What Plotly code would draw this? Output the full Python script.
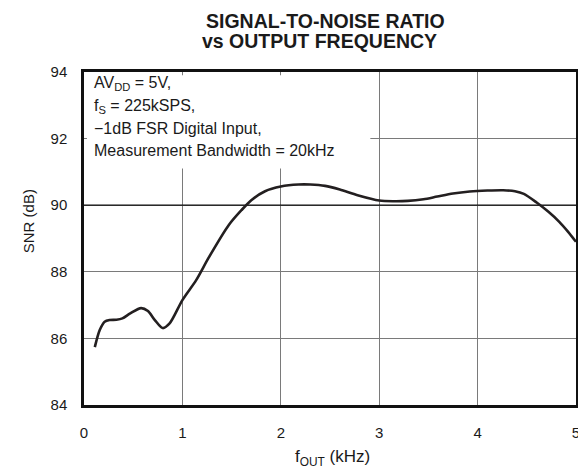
import plotly.graph_objects as go

# SNR vs output frequency
f_out = [0.11, 0.16, 0.21, 0.26, 0.33, 0.39, 0.47, 0.58, 0.65, 0.72, 0.80, 0.87,
         1.0, 1.14, 1.27, 1.47, 1.60, 1.70, 1.84, 2.0, 2.18, 2.3, 2.45, 2.6,
         2.78, 3.0, 3.15, 3.29, 3.45, 3.59, 3.75, 3.92, 4.1, 4.26, 4.38, 4.47,
         4.6, 4.72, 4.83, 4.92, 5.0]
snr = [85.74, 86.25, 86.5, 86.55, 86.56, 86.6, 86.75, 86.91, 86.82, 86.55, 86.31, 86.45,
       87.15, 87.75, 88.44, 89.4, 89.85, 90.15, 90.42, 90.56, 90.62, 90.62, 90.58, 90.47,
       90.3, 90.14, 90.12, 90.13, 90.18, 90.26, 90.35, 90.41, 90.44, 90.45, 90.42, 90.34,
       90.08, 89.8, 89.5, 89.2, 88.9]

x_ticks = [0, 1, 2, 3, 4, 5]
y_ticks = [84, 86, 88, 90, 92, 94]

title_lines = ["SIGNAL-TO-NOISE RATIO", "vs OUTPUT FREQUENCY"]
note_lines = ["AV<sub>DD</sub> = 5V,", "f<sub>S</sub> = 225kSPS,",
              "\u22121dB FSR Digital Input,", "Measurement Bandwidth = 20kHz"]

FONT = "Liberation Sans, Arial, sans-serif"
INK = "#1a1a1a"

fig = go.Figure()
fig.add_trace(go.Scatter(x=f_out, y=snr, mode="lines",
                         line=dict(color="#231f20", width=2.6, shape="spline", smoothing=0.8),
                         showlegend=False, hoverinfo="skip"))

# white box behind the notes, hides the grid but not the curve
fig.add_shape(type="rect", xref="x", yref="y", x0=0.03, x1=2.91, y0=91.1, y1=93.9,
              fillcolor="white", line=dict(width=0), layer="between")

# 90 dB line is drawn black in the original
fig.add_shape(type="line", xref="x", yref="y", x0=0, x1=5, y0=90, y1=90,
              line=dict(color="#111", width=1.3), layer="between")

# title, two tight lines
for txt, xp, yp in zip(title_lines, [0.490, 0.478], [1.1517, 1.0931]):
    fig.add_annotation(xref="paper", yref="paper", x=xp, y=yp, xanchor="center",
                       yanchor="middle", text="<b>" + txt + "</b>", showarrow=False,
                       font=dict(family=FONT, size=19.5, color=INK))

# conditions box text
for txt, yp in zip(note_lines, [0.9658, 0.8967, 0.8306, 0.7646]):
    fig.add_annotation(xref="paper", yref="paper", x=0.016, y=yp, xanchor="left",
                       yanchor="middle", text=txt, showarrow=False, align="left",
                       font=dict(family=FONT, size=16, color=INK))

fig.add_annotation(xref="paper", yref="paper", x=-0.113, y=0.553, textangle=-90,
                   xanchor="center", yanchor="middle",
                   text="SNR (dB)", showarrow=False,
                   font=dict(family=FONT, size=15, color=INK))

fig.add_annotation(xref="paper", yref="paper", x=0.506, y=-0.159,
                   xanchor="center", yanchor="middle",
                   text="f<sub>OUT</sub> (kHz)", showarrow=False,
                   font=dict(family=FONT, size=17, color=INK))

# page has an 8px body margin, so the figure is 8px smaller and margins shifted
fig.update_layout(
    width=578, height=460,
    margin=dict(l=76, r=6, t=64, b=63),
    paper_bgcolor="white", plot_bgcolor="white",
    font=dict(family=FONT, size=15, color=INK),
    xaxis=dict(range=[0, 5], tickvals=x_ticks, showgrid=True, gridcolor="#7a7a7a",
               gridwidth=1.3, zeroline=False, showline=True, linecolor="#111",
               linewidth=2.5, mirror=True, ticks="", ticklabelstandoff=12),
    yaxis=dict(range=[84, 94], tickvals=y_ticks, showgrid=True, gridcolor="#7a7a7a",
               gridwidth=1.3, zeroline=False, showline=True, linecolor="#111",
               linewidth=2.5, mirror=True, ticks="", ticklabelstandoff=11),
)

fig.write_html("out.html")
